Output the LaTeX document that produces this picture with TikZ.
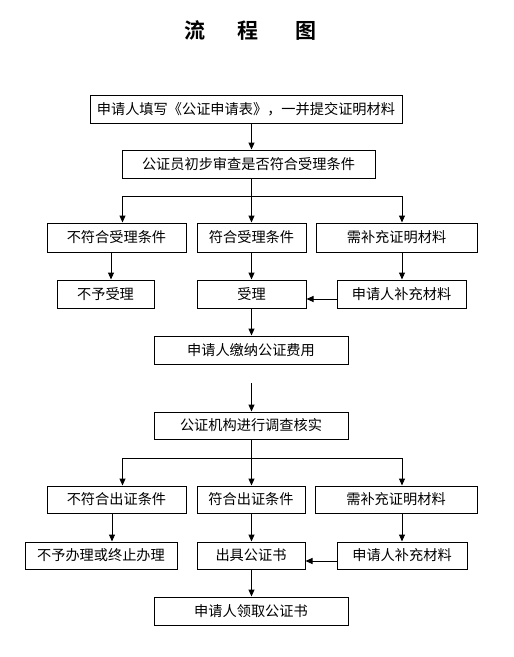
\documentclass[tikz,border=0pt]{standalone}
\usepackage{fontspec}
\setmainfont{Noto Sans CJK SC}
\newfontfamily\cjk{Noto Sans CJK SC}
\newfontfamily\cjkbold{Noto Sans CJK SC Bold}
\usetikzlibrary{arrows.meta}
\begin{document}
\begin{tikzpicture}[x=1pt,y=-1pt,
  box/.style={draw=black,line width=1pt,inner sep=0pt,minimum height=28pt,font=\cjk\fontsize{14.2pt}{15pt}\selectfont,text=black},
  arr/.style={line width=1pt,-{Triangle[length=7pt,width=6pt]}},
  ln/.style={line width=1pt}]
\useasboundingbox[fill=white] (0,0) rectangle (514,657);
\node[font=\cjkbold\fontsize{21pt}{22pt}\selectfont] (title) at (250.5,31) {流\hspace{32pt}程\hspace{37pt}图};
% coordinates for connector columns and rows
\coordinate (xc) at (251.5,0);
\coordinate (xl) at (122.5,0);
\coordinate (xr) at (402,0);
\coordinate (xla) at (111,0);
\coordinate (xlb) at (112,0);
\coordinate (h1) at (0,196);
\coordinate (h2) at (0,458);
\coordinate (y1) at (0,299);
\coordinate (y2) at (0,561);
% boxes
\node[box,minimum width=312pt] (b1) at (246,109) {申请人填写《公证申请表》，一并提交证明材料};
\node[box,minimum width=253pt] (b2) at (248.5,164) {公证员初步审查是否符合受理条件};
\node[box,minimum width=139pt,minimum height=29pt] (l1) at (116.5,237.5) {不符合受理条件};
\node[box,minimum width=109pt,minimum height=29pt] (m1) at (251.5,237.5) {符合受理条件};
\node[box,minimum width=161pt,minimum height=29pt] (r1) at (396.5,237.5) {需补充证明材料};
\node[box,minimum width=97pt] (l2) at (105.5,294) {不予受理};
\node[box,minimum width=109pt] (m2) at (251.5,294) {受理};
\node[box,minimum width=129pt] (r2) at (401.5,294) {申请人补充材料};
\node[box,minimum width=194pt] (fee) at (251,350) {申请人缴纳公证费用};
\coordinate (gap) at (251.5,383);
\node[box,minimum width=194pt,minimum height=27pt] (inv) at (251,425.5) {公证机构进行调查核实};
\node[box,minimum width=139pt,minimum height=27pt] (l3) at (116.5,499.5) {不符合出证条件};
\node[box,minimum width=108pt,minimum height=27pt] (m3) at (251,499.5) {符合出证条件};
\node[box,minimum width=162pt,minimum height=27pt] (r3) at (396,499.5) {需补充证明材料};
\node[box,minimum width=152pt,minimum height=27pt] (l4) at (101,555.5) {不予办理或终止办理};
\node[box,minimum width=108pt,minimum height=27pt] (m4) at (251,555.5) {出具公证书};
\node[box,minimum width=130pt,minimum height=27pt] (r4) at (402,555.5) {申请人补充材料};
\node[box,minimum width=194pt] (fin) at (251,611) {申请人领取公证书};
% connectors, part one
\draw[arr] (b1.south -| xc) -- (b2.north -| xc);
\draw[ln] (b2.south -| xc) -- (xc |- h1);
\draw[ln] (xl |- h1) -- (xr |- h1);
\draw[arr] (xl |- h1) -- (l1.north -| xl);
\draw[arr] (xc |- h1) -- (m1.north -| xc);
\draw[arr] (xr |- h1) -- (r1.north -| xr);
\draw[arr] (l1.south -| xla) -- (l2.north -| xla);
\draw[arr] (m1.south -| xc) -- (m2.north -| xc);
\draw[arr] (r1.south -| xr) -- (r2.north -| xr);
\draw[arr] (r2.west |- y1) -- (m2.east |- y1);
\draw[arr] (m2.south -| xc) -- (fee.north -| xc);
\draw[arr] (gap) -- (inv.north -| gap);
% connectors, part two
\draw[ln] (inv.south -| xc) -- (xc |- h2);
\draw[ln] (xl |- h2) -- (xr |- h2);
\draw[arr] (xl |- h2) -- (l3.north -| xl);
\draw[arr] (xc |- h2) -- (m3.north -| xc);
\draw[arr] (xr |- h2) -- (r3.north -| xr);
\draw[arr] (l3.south -| xlb) -- (l4.north -| xlb);
\draw[arr] (m3.south -| xc) -- (m4.north -| xc);
\draw[arr] (r3.south -| xr) -- (r4.north -| xr);
\draw[arr] (r4.west |- y2) -- (m4.east |- y2);
\draw[arr] (m4.south -| xc) -- (fin.north -| xc);
\end{tikzpicture}
\end{document}
